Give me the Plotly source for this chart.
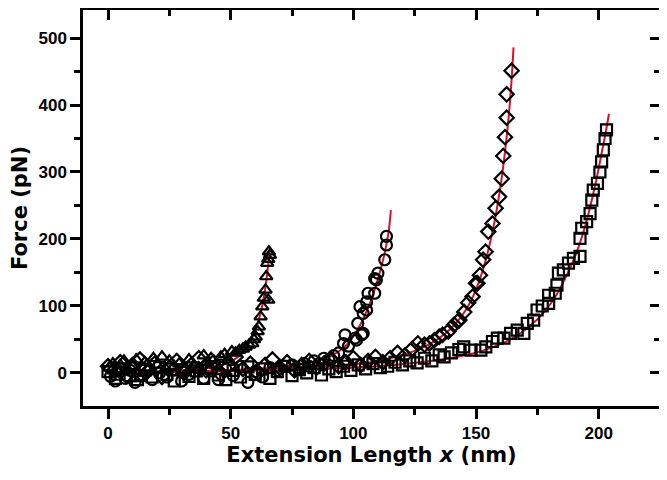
import plotly.graph_objects as go

tri_x = [0.5, 2, 3.5, 5, 6.5, 8, 10, 11.5, 13, 15, 17, 18.5, 20, 22, 23.5, 25, 27, 29, 31, 33,
         35, 37, 39, 40.5, 42, 44, 46, 47.5, 49, 50.5, 52, 53.5, 55, 56.1, 57.5, 58.8, 59.5, 60.2, 61, 61.5,
         62.2, 62.9, 63.5, 64.2, 64.5, 65.3, 64.9, 65.3, 65.6, 66]
tri_y = [8, 14, -6, 12, 18, 5, 10, 20, -8, 16, 8, 22, 12, 24, 6, 18, 10, 14, 4, 20,
         12, 8, 26, 16, 22, 12, 24, 28, 20, 32, 30, 34, 36, 39, 42, 44, 50, 54, 62, 69,
         84, 99, 112, 124, 144, 109, 164, 170, 181, 176]

circ_x = [1, 3, 5, 7, 9, 11, 13, 15, 18, 21, 24, 27, 30, 33, 36, 39, 42, 45, 48, 51,
          54, 57, 60, 63, 66, 69, 72, 75, 78, 80, 82, 84, 86, 88, 90, 92, 94, 96, 96.6, 98,
          100.7, 101.3, 103.4, 104, 101.8, 104, 105.4, 102.7, 105.4, 106, 108.7, 108.7, 109.4, 110, 112.8,
          113.5, 113.5]
circ_y = [-5, -12, 2, -8, 4, -14, -3, 6, -10, 0, -6, 5, -12, -2, 8, -8, 3, -10, 6, -4,
          10, -14, 2, -6, 8, 4, 10, 12, 6, 14, 10, 18, 14, 22, 20, 26, 30, 44, 57, 40,
          52, 49, 57, 59, 74, 89, 94, 99, 106, 119, 119, 141, 139, 149, 169,
          191, 204]

diam_x = [0, 2.5, 5, 7.5, 10, 13, 16, 19, 22, 25, 28, 31, 34, 37, 40, 43, 46, 49, 52, 55,
          58, 61, 64, 67, 70, 73, 76, 79, 82, 85, 88, 91, 94, 97, 100, 103, 106, 109, 112, 115,
          118, 121, 124, 126.3, 129, 131, 133, 135, 136.4, 138.7, 141.1, 142.5, 143.2, 145.2, 146.8,
          148.6, 150, 150.6, 151.6, 152.9, 153.9, 155, 156.7, 158, 159.4, 160.5, 161.1, 161.8, 162.5,
          162.5, 164.5]
diam_y = [10, 4, 16, -4, 12, 20, 2, 14, -6, 8, 18, 0, 12, 22, 4, 16, -2, 10, 24, 6,
          14, 0, 12, 20, 8, 16, 4, 12, 18, 8, 14, 20, 10, 16, 22, 12, 18, 24, 16, 22,
          30, 26, 36, 44, 42, 44, 49, 54, 57, 62, 72, 77, 79, 91, 105,
          114, 134, 134, 146, 169, 181, 211, 223, 246, 263, 290, 324, 352, 381,
          416, 451]

sq_x = [0, 3, 6, 9, 12, 15, 18, 21, 24, 27, 30, 33, 36, 39, 42, 45, 48, 51, 54, 57,
        60, 63, 66, 69, 72, 75, 78, 81, 84, 87, 90, 93, 96, 99, 102, 105, 108, 111, 114, 117,
        120, 123, 126, 129, 132, 135, 137, 140, 143, 145, 148, 152, 154, 156.7, 158.7,
        161.4, 164.1, 166.8, 169.5, 170.9, 173.5, 174.9, 177, 179.6, 179.6, 182.3, 183, 183.6, 185.6,
        187.7, 189.7, 192.4, 192.4, 193.1, 195.1, 196.5, 197.2, 197.8, 199.5, 200.5, 201.2, 201.9,
        202.6, 203.2]
sq_y = [2, -8, 6, -4, -10, 4, -6, 8, -2, -12, 5, -5, 3, -8, 7, -3, -10, 4, -6, 9,
        -2, 6, -8, 2, 10, -4, 5, 0, 8, -3, 6, 2, 10, 4, 12, 6, 14, 8, 10, 16,
        12, 18, 15, 22, 18, 27, 24, 30, 35, 39, 34, 34, 39, 47, 52,
        52, 59, 64, 59, 74, 79, 94, 100, 104, 116, 119, 131, 149, 154,
        164, 171, 174, 201, 216, 226, 238, 258, 273, 283, 300, 315, 333,
        350, 363]

# fitted curves (red)
tri_fit_x = [0, 10, 20, 30, 40, 45, 50, 53, 55, 57, 59, 60.5, 62, 63, 64, 64.8, 65.4, 66]
tri_fit_y = [0, 1, 2, 4, 7, 10, 17, 24, 31, 42, 56, 68, 87, 103, 124, 146, 165, 185]
circ_fit_x = [0, 20, 40, 60, 70, 80, 85, 90, 94, 97, 100, 103, 106, 108, 110, 112, 113.5, 114.5, 115.3]
circ_fit_y = [0, 1, 3, 6, 9, 14, 18, 24, 32, 41, 55, 73, 97, 117, 140, 167, 192, 214, 243]
diam_fit_x = [0, 30, 60, 80, 100, 110, 118, 125, 130, 135, 140, 144, 148, 151, 154, 156.5,
              158.5, 160.5, 162, 163.3, 164.4, 165.3]
diam_fit_y = [0, 2, 5, 8, 13, 18, 25, 33, 41, 52, 67, 84, 108, 134, 169, 207,
              245, 292, 336, 382, 432, 486]
sq_fit_x = [0, 40, 80, 110, 130, 145, 155, 165, 172, 178, 183, 187, 190.5, 193.5, 196, 198,
            199.7, 201.2, 202.5, 203.5, 204.2]
sq_fit_y = [0, 2, 5, 10, 17, 26, 36, 52, 70, 92, 118, 146, 175, 207, 240, 271,
            300, 328, 352, 372, 387]

x_ticks = [0, 50, 100, 150, 200]
y_ticks = [0, 100, 200, 300, 400, 500]

fig = go.Figure()

# red fits first so the open markers sit on top
for xs, ys in [(tri_fit_x, tri_fit_y), (circ_fit_x, circ_fit_y),
               (diam_fit_x, diam_fit_y), (sq_fit_x, sq_fit_y)]:
    fig.add_scatter(x=xs, y=ys, mode="lines", showlegend=False,
                    line=dict(color="#d8102c", width=2, shape="spline"))

marker_sets = [
    (sq_x, sq_y, "square-open"),
    (diam_x, diam_y, "diamond-open"),
    (circ_x, circ_y, "circle-open"),
    (tri_x, tri_y, "triangle-up-open"),
]
for xs, ys, sym in marker_sets:
    fig.add_scatter(x=xs, y=ys, mode="markers", showlegend=False,
                    marker=dict(symbol=sym, size=11, color="black", line=dict(width=2.2, color="black")))

# dummy trace so the mirrored top/right axes get drawn
fig.add_scatter(x=[], y=[], xaxis="x2", yaxis="y2", showlegend=False)

# page body adds 8px margin, so the figure is sized/margined to compensate
x_range = [-10.2, 225]
y_range = [-49.3, 541.8]
tick_font = dict(family="Liberation Sans, Arial", size=17, color="black", weight="bold")
title_font = dict(family="DejaVu Sans", size=21, color="black", weight="bold")

fig.update_layout(
    width=659, height=472,
    margin=dict(l=75, r=7, t=2, b=74),
    paper_bgcolor="white", plot_bgcolor="white",
    font=dict(family="Liberation Sans, Arial", color="black"),
    xaxis=dict(range=x_range, tickvals=x_ticks, ticks="outside", ticklen=10, tickwidth=2.5,
               tickcolor="black", showline=True, linewidth=2.5, linecolor="black",
               showgrid=False, zeroline=False, tickfont=tick_font, automargin=False,
               minor=dict(ticks="outside", ticklen=6, tickwidth=2.5, tickcolor="black",
                          dtick=25, tick0=0, showgrid=False),
               title=dict(text="Extension Length <i>x</i> (nm)", font=title_font, standoff=6)),
    yaxis=dict(range=y_range, tickvals=y_ticks, ticks="outside", ticklen=10, tickwidth=2.5,
               tickcolor="black", showline=True, linewidth=2.5, linecolor="black",
               showgrid=False, zeroline=False, tickfont=tick_font, automargin=False,
               minor=dict(ticks="outside", ticklen=6, tickwidth=2.5, tickcolor="black",
                          dtick=50, tick0=0, showgrid=False),
               title=dict(text="Force (pN)", font=title_font, standoff=8)),
    xaxis2=dict(range=x_range, overlaying="x", side="top", anchor="y", tickvals=x_ticks,
                ticks="inside", ticklen=10, tickwidth=2.5, tickcolor="black",
                showticklabels=False, showline=True, linewidth=2.5, linecolor="black",
                showgrid=False, zeroline=False,
                minor=dict(ticks="inside", ticklen=6, tickwidth=2.5, tickcolor="black",
                           dtick=25, tick0=0, showgrid=False)),
    yaxis2=dict(range=y_range, overlaying="y", side="right", anchor="x", tickvals=y_ticks,
                ticks="inside", ticklen=10, tickwidth=2.5, tickcolor="black",
                showticklabels=False, showline=True, linewidth=2.5, linecolor="black",
                showgrid=False, zeroline=False,
                minor=dict(ticks="inside", ticklen=6, tickwidth=2.5, tickcolor="black",
                           dtick=50, tick0=0, showgrid=False)),
)

fig.write_html("out.html")
